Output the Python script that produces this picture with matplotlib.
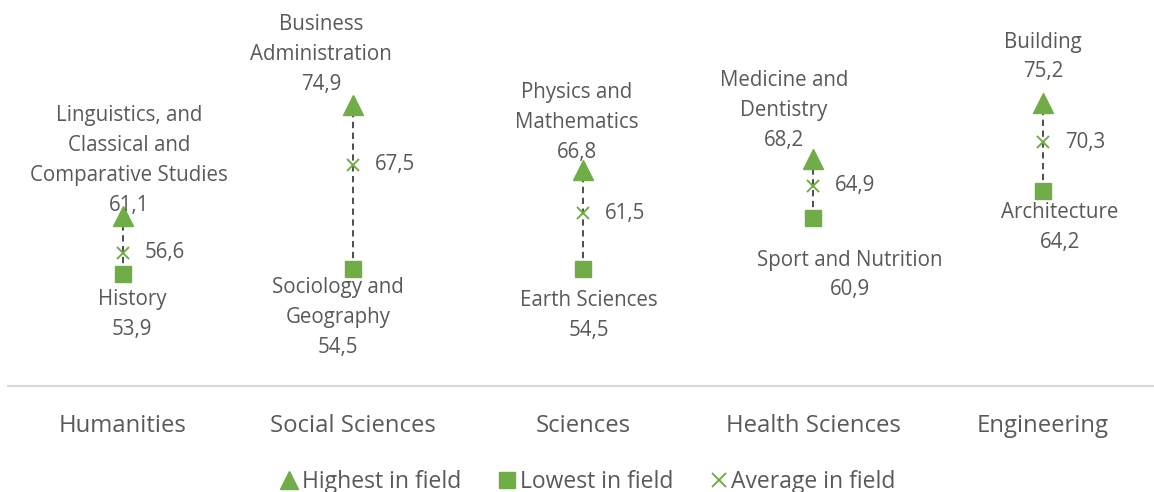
import numpy as np
import matplotlib
matplotlib.use("Agg")
import matplotlib.pyplot as plt
from matplotlib.lines import Line2D

plt.rcParams["font.family"] = ["Open Sans", "DejaVu Sans"]

fields = ["Humanities", "Social Sciences", "Sciences", "Health Sciences", "Engineering"]
highest = [61.1, 74.9, 66.8, 68.2, 75.2]
lowest = [53.9, 54.5, 54.5, 60.9, 64.2]
average = [56.6, 67.5, 61.5, 64.9, 70.3]
highest_names = ["Linguistics, and\nClassical and\nComparative Studies",
                 "Business\nAdministration",
                 "Physics and\nMathematics",
                 "Medicine and\nDentistry",
                 "Building"]
lowest_names = ["History", "Sociology and\nGeography", "Earth Sciences",
                "Sport and Nutrition", "Architecture"]

# label placement (pixel offsets from the marker)
high_off = [(6, 56), (-32, 51), (-6, 48), (-29, 49), (0, 46)]
low_off = [(9, -40), (-15, -48), (6, -46), (37, -57), (17, -36)]

GREEN = "#70AD47"
TEXT = "#595959"


def fmt(v):
    return f"{v:.1f}".replace(".", ",")


def main():
    fig = plt.figure(figsize=(11.54, 4.92), dpi=100)
    ax = fig.add_axes([8 / 1154, 106 / 492, 1150 / 1154, 386 / 492])
    x = np.arange(len(fields))

    for i in x:
        ax.plot([i, i], [lowest[i], highest[i]], linestyle=(0, (3.5, 2.5)),
                color="#404040", linewidth=1.3, zorder=1)
    ax.plot(x, highest, "^", color=GREEN, markersize=14, zorder=3)
    ax.plot(x, lowest, "s", color=GREEN, markersize=11.5, zorder=3)
    ax.plot(x, average, "x", color=GREEN, markersize=9, markeredgewidth=1.4, zorder=3)

    for i in x:
        ax.annotate(f"{highest_names[i]}\n{fmt(highest[i])}", (i, highest[i]),
                    xytext=high_off[i], textcoords="offset pixels",
                    ha="center", va="center", fontsize=14.8, color=TEXT,
                    linespacing=1.55)
        ax.annotate(f"{lowest_names[i]}\n{fmt(lowest[i])}", (i, lowest[i]),
                    xytext=low_off[i], textcoords="offset pixels",
                    ha="center", va="center", fontsize=14.8, color=TEXT,
                    linespacing=1.55)
        ax.annotate(fmt(average[i]), (i, average[i]), xytext=(22, 0),
                    textcoords="offset pixels", ha="left", va="center",
                    fontsize=14.8, color=TEXT)

    ax.set_xlim(-0.5, len(fields) - 0.5)
    ax.set_ylim(40, 88)
    ax.set_xticks(x)
    ax.set_xticklabels(fields, fontsize=17.2, color=TEXT)
    ax.tick_params(axis="x", length=0, pad=20)
    ax.set_yticks([])
    for side in ["top", "left", "right"]:
        ax.spines[side].set_visible(False)
    ax.spines["bottom"].set_color("#D9D9D9")
    ax.spines["bottom"].set_linewidth(1.5)

    handles = [
        Line2D([0], [0], marker="^", linestyle="none", color=GREEN,
               markersize=13, label="Highest in field"),
        Line2D([0], [0], marker="s", linestyle="none", color=GREEN,
               markersize=12, label="Lowest in field"),
        Line2D([0], [0], marker="x", linestyle="none", color=GREEN,
               markersize=10, markeredgewidth=1.4, label="Average in field"),
    ]
    leg = fig.legend(handles=handles, loc="center", ncol=3,
                     bbox_to_anchor=(588 / 1154, 10 / 492), frameon=False,
                     fontsize=16.5, handlelength=0.8, handletextpad=0.15,
                     columnspacing=1.6)
    for t in leg.get_texts():
        t.set_color(TEXT)

    fig.savefig("out.png", dpi=100)
    plt.close(fig)


if __name__ == "__main__":
    main()
